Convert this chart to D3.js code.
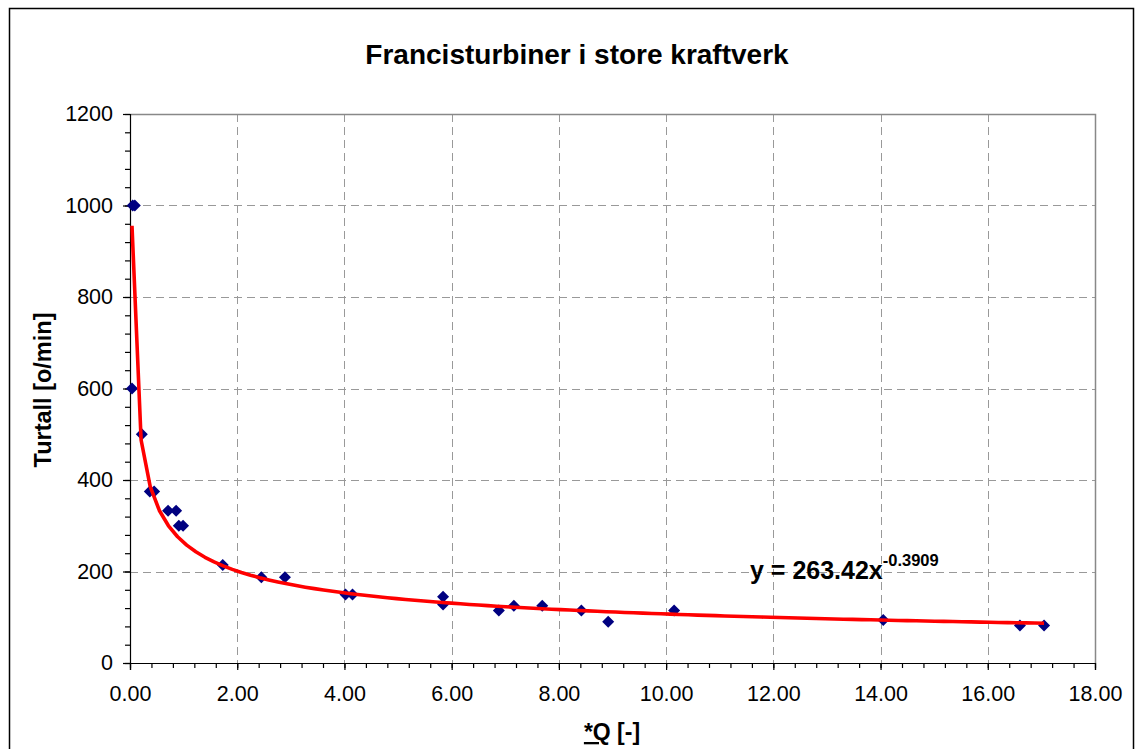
<!DOCTYPE html>
<html>
<head>
<meta charset="utf-8">
<script src="https://cdn.jsdelivr.net/npm/d3@7"></script>
<style>
  html, body { margin: 0; padding: 0; background: #fff; }
  svg { display: block; font-family: "Liberation Sans", Arial, sans-serif; }
</style>
</head>
<body>
<svg id="chart" width="1135" height="749"></svg>
<script>
// Measured runner data: specific flow (x) and speed in rpm (y)
const qValues = [0.05, 0.09, 0.037, 0.22, 0.37, 0.45, 0.71, 0.86, 0.91, 0.99,
                 1.73, 2.45, 2.89, 4.02, 4.15, 5.84, 5.84, 6.88, 7.16, 7.69,
                 8.42, 8.92, 10.15, 14.05, 16.6, 17.05];
const rpmValues = [1000, 1000, 600, 500, 375, 375, 333, 333, 300, 300,
                   214, 187.5, 187.5, 150, 150, 145, 128, 115, 125, 125,
                   115, 90, 115, 94, 82, 82];

// Power-law trendline coefficients
const trendA = 263.42;
const trendB = -0.3909;

const xTicks = [0, 2, 4, 6, 8, 10, 12, 14, 16, 18];
const yTicks = [0, 200, 400, 600, 800, 1000, 1200];

const titleText = "Francisturbiner i store kraftverk";
const yLabelText = "Turtall [o/min]";

const svg = d3.select("#chart");
const plot = { left: 130, right: 1095, top: 114, bottom: 663 };
const tickFont = "21.5px";

// Outer chart frame
svg.append("rect")
  .attr("x", 9.5).attr("y", 8.5)
  .attr("width", 1124).attr("height", 760)
  .attr("fill", "#fff").attr("stroke", "#000").attr("stroke-width", 1.5);

const x = d3.scaleLinear().domain([0, 18]).range([plot.left, plot.right]);
const y = d3.scaleLinear().domain([0, 1200]).range([plot.bottom, plot.top]);

// Gridlines
const grid = svg.append("g");
grid.selectAll("line.gx")
  .data(xTicks.filter(t => t > 0 && t < 18))
  .join("line")
  .attr("x1", d => Math.round(x(d)) + 0.5).attr("x2", d => Math.round(x(d)) + 0.5)
  .attr("y1", plot.top).attr("y2", plot.bottom)
  .attr("stroke", "#999").attr("stroke-width", 1).attr("stroke-dasharray", "8,5");
grid.selectAll("line.gy")
  .data(yTicks.filter(t => t > 0 && t < 1200))
  .join("line")
  .attr("y1", d => Math.round(y(d)) + 0.5).attr("y2", d => Math.round(y(d)) + 0.5)
  .attr("x1", plot.left).attr("x2", plot.right)
  .attr("stroke", "#999").attr("stroke-width", 1).attr("stroke-dasharray", "8,5");

// Plot area border (top and right)
svg.append("path")
  .attr("d", `M${plot.left},${plot.top + 0.5}H${plot.right + 0.5}V${plot.bottom}`)
  .attr("fill", "none").attr("stroke", "#888").attr("stroke-width", 1.5);

// Axes
const xAxisMinor = d3.axisBottom(x).tickValues(d3.range(0, 18.01, 0.4)).tickSize(5).tickFormat("");
const xAxis = d3.axisBottom(x).tickValues(xTicks).tickSize(7).tickPadding(16)
  .tickFormat(d3.format(".2f"));
const yAxisMinor = d3.axisLeft(y).tickValues(d3.range(0, 1201, 40)).tickSize(5).tickFormat("");
const yAxis = d3.axisLeft(y).tickValues(yTicks).tickSize(7).tickPadding(10)
  .tickFormat(d3.format("d"));

function styleAxis(g) {
  g.selectAll("path, line").attr("stroke", "#000").attr("stroke-width", 1.2);
  g.selectAll("text").attr("fill", "#000").style("font-size", tickFont)
    .style("font-family", "'Liberation Sans', Arial, sans-serif");
}

svg.append("g").attr("transform", `translate(0,${plot.bottom})`).call(xAxisMinor).call(styleAxis)
  .select(".domain").remove();
svg.append("g").attr("transform", `translate(0,${plot.bottom})`).call(xAxis).call(styleAxis);
svg.append("g").attr("transform", `translate(${plot.left},0)`).call(yAxisMinor).call(styleAxis)
  .select(".domain").remove();
svg.append("g").attr("transform", `translate(${plot.left},0)`).call(yAxis).call(styleAxis);

// Data points as diamonds
const pts = qValues.map((q, i) => ({ q, n: rpmValues[i] }));
const r = 6;
svg.append("g").selectAll("path")
  .data(pts)
  .join("path")
  .attr("d", d => {
    const cx = x(d.q), cy = y(d.n);
    return `M${cx},${cy - r}L${cx + r},${cy}L${cx},${cy + r}L${cx - r},${cy}Z`;
  })
  .attr("fill", "#000080");

// Trendline from the fitted power law, spanning the data range
const qMin = d3.min(qValues), qMax = d3.max(qValues);
const nSeg = 100;
const trendPts = d3.range(nSeg + 1).map(i => {
  const q = qMin + (qMax - qMin) * i / nSeg;
  return [q, trendA * Math.pow(q, trendB)];
});
svg.append("path")
  .datum(trendPts)
  .attr("d", d3.line().x(d => x(d[0])).y(d => y(d[1])))
  .attr("fill", "none").attr("stroke", "#ff0000").attr("stroke-width", 3.6)
  .attr("stroke-linejoin", "round");

// Title
svg.append("text")
  .attr("x", 577).attr("y", 64)
  .attr("text-anchor", "middle")
  .style("font-size", "28px").style("font-weight", "bold")
  .text(titleText);

// Y axis label
svg.append("text")
  .attr("transform", "translate(51,390) rotate(-90)")
  .attr("text-anchor", "middle")
  .style("font-size", "23.5px").style("font-weight", "bold")
  .text(yLabelText);

// X axis label with underlined symbol
const xl = svg.append("text")
  .attr("x", 612).attr("y", 740)
  .attr("text-anchor", "middle")
  .style("font-size", "23px").style("font-weight", "bold");
xl.append("tspan").attr("text-decoration", "underline").text("*Q");
xl.append("tspan").text(" [-]");

// Trendline equation
const eq = svg.append("text")
  .attr("x", 750).attr("y", 579)
  .style("font-size", "25px").style("font-weight", "bold");
eq.append("tspan").text(`y = ${trendA}x`);
eq.append("tspan").attr("dy", -13).style("font-size", "16.5px").text(`${trendB}`);
</script>
</body>
</html>
